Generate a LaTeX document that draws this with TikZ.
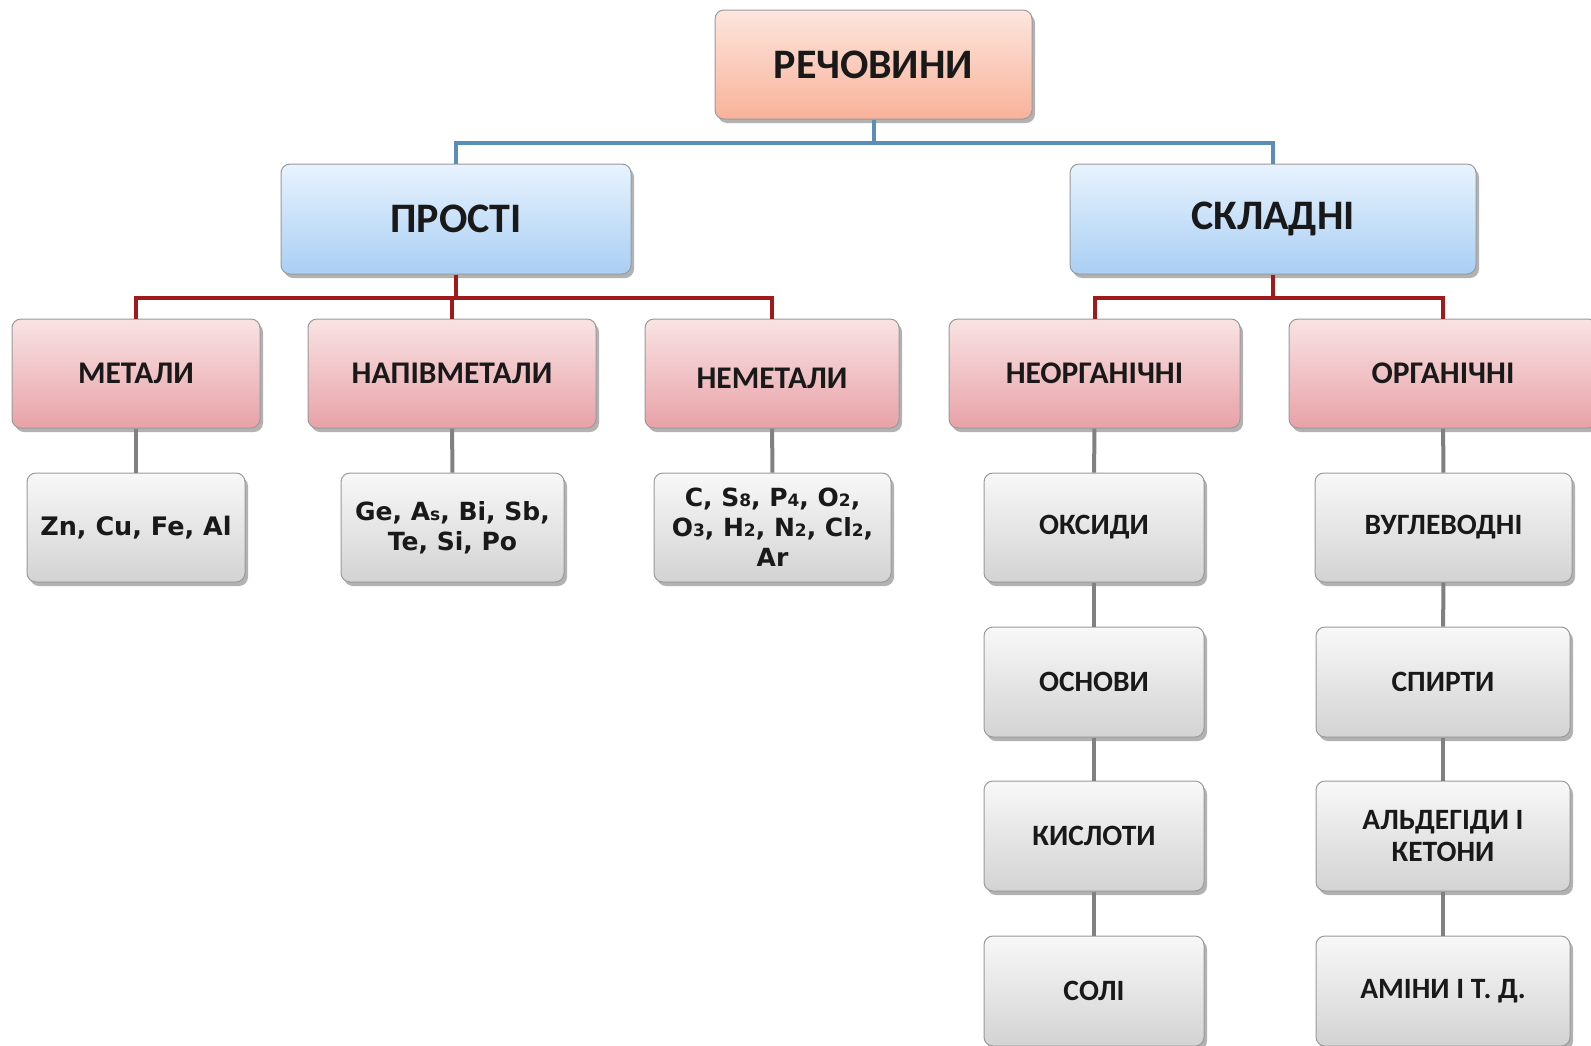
\documentclass[tikz,border=0pt]{standalone}
\usepackage{fontspec}
\setmainfont{Carlito}
\newfontfamily\formfont{DejaVu Sans}
\usetikzlibrary{shadows}
\definecolor{edgegray}{HTML}{9A9A9A}
\definecolor{topA}{HTML}{FDE6DE}
\definecolor{botA}{HTML}{F8B29A}
\definecolor{topB}{HTML}{E8F3FE}
\definecolor{botB}{HTML}{A9CFF4}
\definecolor{topC}{HTML}{F9E3E4}
\definecolor{botC}{HTML}{E8A2A7}
\definecolor{topD}{HTML}{F8F8F8}
\definecolor{botD}{HTML}{D3D3D3}
\definecolor{blueline}{HTML}{5A8DB8}
\definecolor{redline}{HTML}{A0191C}
\definecolor{grayline}{HTML}{808080}
\newcommand{\sm}[1]{{\fontsize{17}{17}\selectfont #1}}
\begin{document}
\begin{tikzpicture}[x=1pt,y=-1pt,
  box/.style={rounded corners=9pt, draw=edgegray, line width=1pt, align=center, inner sep=0pt,
    text=black!90, drop shadow={shadow xshift=3pt, shadow yshift=-4pt, opacity=0.3, fill=black}},
  lvlA/.style={box, top color=topA, bottom color=botA, font=\bfseries\fontsize{42}{46}\selectfont},
  lvlB/.style={box, top color=topB, bottom color=botB, font=\bfseries\fontsize{42}{46}\selectfont},
  lvlC/.style={box, top color=topC, bottom color=botC, font=\bfseries\fontsize{31.5}{35}\selectfont},
  lvlD/.style={box, top color=topD, bottom color=botD, font=\bfseries\fontsize{29.5}{32}\selectfont},
  form/.style={font=\formfont\bfseries\fontsize{25}{30}\selectfont},
  bline/.style={draw=blueline, line width=4pt},
  rline/.style={draw=redline, line width=4pt},
  gline/.style={draw=grayline, line width=4pt},
]
\useasboundingbox (0,0) rectangle (1591,1045);
\clip (0,0) rectangle (1591,1045);
\fill[white] (0,0) rectangle (1591,1045);

% level 0
\node[lvlA, minimum width=317, minimum height=109] (rech) at (873.5,64.5) {РЕЧОВИНИ};
% level 1
\node[lvlB, minimum width=350, minimum height=110] (prosti) at (456,219) {ПРОСТІ};
\node[lvlB, minimum width=406, minimum height=110] (skladni) at (1273,219) {СКЛАДНІ};
% level 2
\node[lvlC, minimum width=248, minimum height=109] (metaly) at (136,373.5) {МЕТАЛИ};
\node[lvlC, minimum width=288, minimum height=109] (napiv) at (452,373.5) {НАПІВМЕТАЛИ};
\node[lvlC, minimum width=254, minimum height=109] (nemet) at (772,373.5) {\raisebox{-5pt}[\height][\depth]{НЕМЕТАЛИ}};
\node[lvlC, minimum width=291, minimum height=109] (neorg) at (1094.5,373.5) {НЕОРГАНІЧНІ};
\node[lvlC, minimum width=308, minimum height=109] (org) at (1443,373.5) {ОРГАНІЧНІ};
% level 3
\node[lvlD, form, font=\formfont\bfseries\fontsize{25.5}{30}\selectfont, minimum width=218, minimum height=109] (zn) at (136,527.5) {Zn, Cu, Fe, Al};
\node[lvlD, form, minimum width=223, minimum height=109] (ge) at (452.5,527.5) {Ge, A\sm{s}, Bi, Sb,\\Te, Si, Po};
\node[lvlD, form, minimum width=237, minimum height=109] (cc) at (772.5,527.5) {C, S\sm{8}, P\sm{4}, O\sm{2},\\O\sm{3}, H\sm{2}, N\sm{2}, Cl\sm{2},\\Ar};
\node[lvlD, minimum width=220, minimum height=109] (oksydy) at (1094,527.5) {ОКСИДИ};
\node[lvlD, minimum width=257, minimum height=109] (vuhl) at (1443.5,527.5) {ВУГЛЕВОДНІ};
\node[lvlD, minimum width=220, minimum height=110] (osnovy) at (1094,682) {ОСНОВИ};
\node[lvlD, minimum width=254, minimum height=110] (spyrty) at (1443,682) {СПИРТИ};
\node[lvlD, minimum width=220, minimum height=110] (kysloty) at (1094,836) {КИСЛОТИ};
\node[lvlD, minimum width=254, minimum height=110] (ald) at (1443,836) {АЛЬДЕГІДИ І\\КЕТОНИ};
\node[lvlD, minimum width=220, minimum height=110] (soli) at (1094,991) {СОЛІ};
\node[lvlD, minimum width=254, minimum height=110] (aminy) at (1443,991) {АМІНИ І Т. Д.};

% connectors
\draw[bline] (rech.south) -- ++(0,23) -| (prosti.north);
\draw[bline] (rech.south) -- ++(0,23) -| (skladni.north);
\draw[rline] (prosti.south) -- ++(0,23) -| (metaly.north);
\draw[rline] (prosti.south) -- ++(0,23) -| (napiv.north);
\draw[rline] (prosti.south) -- ++(0,23) -| (nemet.north);
\draw[rline] (skladni.south) -- ++(0,23) -| (neorg.north);
\draw[rline] (skladni.south) -- ++(0,23) -| (org.north);
\draw[gline] (metaly) -- (zn);
\draw[gline] (napiv) -- (ge);
\draw[gline] (nemet) -- (cc);
\draw[gline] (neorg) -- (oksydy);
\draw[gline] (oksydy) -- (osnovy);
\draw[gline] (osnovy) -- (kysloty);
\draw[gline] (kysloty) -- (soli);
\draw[gline] (org) -- (vuhl);
\draw[gline] (vuhl) -- (spyrty);
\draw[gline] (spyrty) -- (ald);
\draw[gline] (ald) -- (aminy);
\end{tikzpicture}
\end{document}
